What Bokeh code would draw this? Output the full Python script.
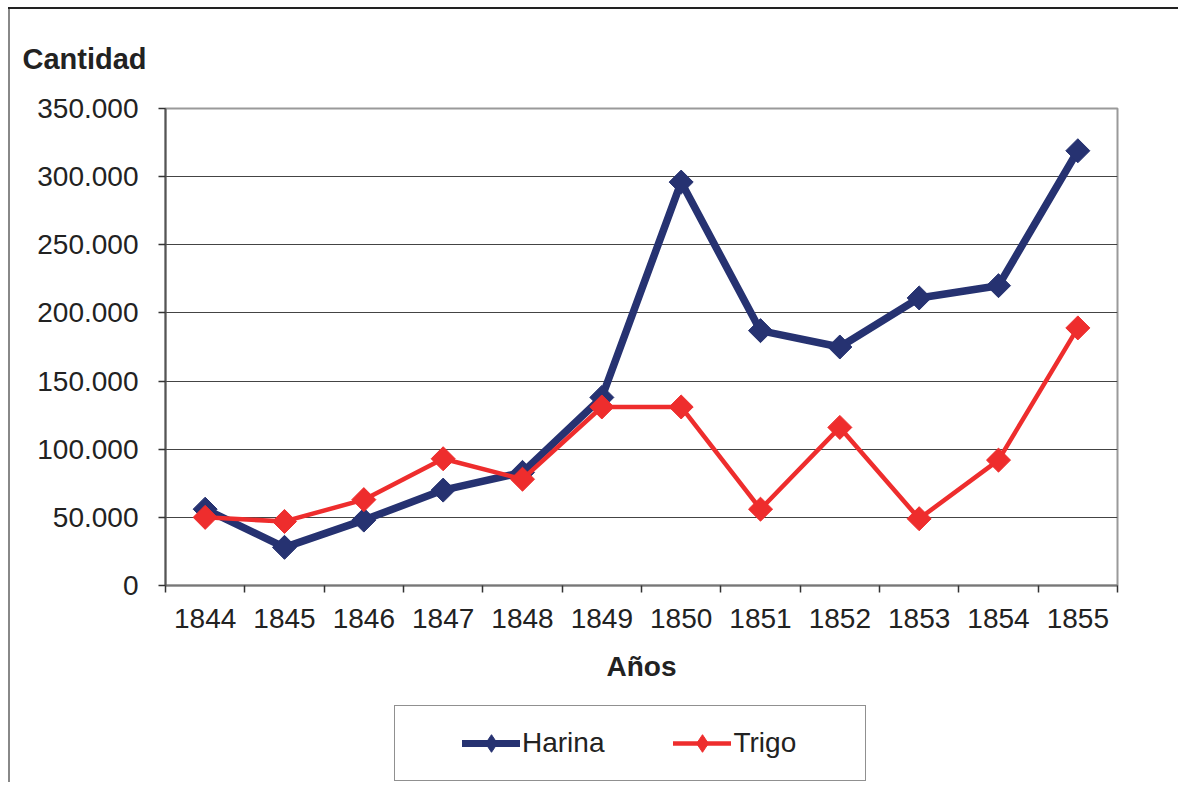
import numpy as np
from bokeh.plotting import figure
from bokeh.layouts import column
from bokeh.models import FixedTicker, Legend, LegendItem, Range1d
from bokeh.embed import file_html
from bokeh.resources import INLINE

years = ["1844", "1845", "1846", "1847", "1848", "1849",
         "1850", "1851", "1852", "1853", "1854", "1855"]
harina = [56000, 28000, 48000, 70000, 83000, 138000,
          296000, 187000, 175000, 211000, 220000, 319000]
trigo = [50000, 47000, 63000, 93000, 78000, 131000,
         131000, 56000, 116000, 49000, 92000, 189000]
y_ticks = [0, 50000, 100000, 150000, 200000, 250000, 300000, 350000]
y_tick_labels = ["0", "50.000", "100.000", "150.000", "200.000",
                 "250.000", "300.000", "350.000"]
series_names = ["Harina", "Trigo"]

FONT = "Liberation Sans"
FS = "28px"
BLUE = "#263271"
RED = "#EE2D2D"
TXT = "#222222"

n = len(years)
xs = np.arange(n) + 0.5

p = figure(width=1178, height=700,
           x_range=Range1d(0, n), y_range=Range1d(0, 350000),
           output_backend="svg", toolbar_location=None,
           min_border_left=165, min_border_right=61,
           min_border_top=108, min_border_bottom=115,
           border_fill_color=None, background_fill_color="white")

p.outline_line_color = "#9a9a9a"
p.outline_line_width = 2

# Title
p.title.text = "Cantidad"
p.title.text_font = FONT
p.title.text_font_size = "29px"
p.title.text_font_style = "bold"
p.title.text_color = TXT
p.title.align = "left"
p.title.offset = -143
p.title.standoff = 67

# X axis
xa = p.xaxis[0]
xa.ticker = FixedTicker(ticks=list(xs), minor_ticks=list(range(n + 1)))
xa.major_label_overrides = {float(x): y for x, y in zip(xs, years)}
xa.major_tick_out = 0
xa.major_tick_in = 0
xa.minor_tick_out = 7
xa.minor_tick_in = 0
xa.minor_tick_line_color = "#333333"
xa.minor_tick_line_width = 1.5
xa.axis_line_color = "#777777"
xa.axis_line_width = 2
xa.major_label_text_font = FONT
xa.major_label_text_font_size = FS
xa.major_label_text_color = TXT
xa.major_label_standoff = 16
xa.axis_label = "Años"
xa.axis_label_text_font = FONT
xa.axis_label_text_font_size = FS
xa.axis_label_text_font_style = "bold"
xa.axis_label_text_color = TXT
xa.axis_label_standoff = 20

# Y axis
ya = p.yaxis[0]
ya.ticker = FixedTicker(ticks=y_ticks)
ya.major_label_overrides = {t: l for t, l in zip(y_ticks, y_tick_labels)}
ya.major_tick_out = 7
ya.major_tick_in = 0
ya.major_tick_line_color = "#333333"
ya.major_tick_line_width = 1.5
ya.minor_tick_line_color = None
ya.axis_line_color = "#555555"
ya.axis_line_width = 2
ya.major_label_text_font = FONT
ya.major_label_text_font_size = FS
ya.major_label_text_color = TXT
ya.major_label_standoff = 20

p.xgrid.grid_line_color = None
p.ygrid.grid_line_color = "#444444"
p.ygrid.grid_line_width = 1

# Series
p.line(xs, harina, line_color=BLUE, line_width=7.5, line_join="round")
p.scatter(xs, harina, marker="square", angle=np.pi / 4, size=17,
          fill_color=BLUE, line_color=BLUE)
p.line(xs, trigo, line_color=RED, line_width=4.5, line_join="round")
p.scatter(xs, trigo, marker="square", angle=np.pi / 4, size=17,
          fill_color=RED, line_color=RED)

# Legend strip (separate figure so the legend is not clipped).
# Its ranges keep the series themselves out of view; only the legend shows.
q = figure(width=1178, height=82, x_range=Range1d(0, 1), y_range=Range1d(0, 1),
           output_backend="svg", toolbar_location=None,
           x_axis_location=None, y_axis_location=None,
           min_border=0, border_fill_color=None, background_fill_color=None,
           outline_line_color=None)
q.xgrid.grid_line_color = None
q.ygrid.grid_line_color = None

ql1 = q.line(xs, harina, line_color=BLUE, line_width=7, line_cap="round")
qm1 = q.scatter(xs, harina, marker="diamond", size=17, fill_color=BLUE, line_color=BLUE)
ql2 = q.line(xs, trigo, line_color=RED, line_width=4.5, line_cap="round")
qm2 = q.scatter(xs, trigo, marker="diamond", size=17, fill_color=RED, line_color=RED)
qbox = q.line(xs, harina, line_alpha=0)

FRAME_LEFT = 165  # column aligns this strip's frame with the chart frame

box = Legend(items=[LegendItem(label=" ", renderers=[qbox])],
             location=(394 - FRAME_LEFT, 1), padding=21, margin=0,
             glyph_width=20, glyph_height=32, label_width=404, label_height=32,
             label_standoff=4, label_text_alpha=0,
             label_text_font=FONT, label_text_font_size=FS,
             border_line_color=TXT, border_line_width=1.5,
             background_fill_color="white", background_fill_alpha=1)
q.add_layout(box, "center")

legend = Legend(items=[LegendItem(label=series_names[0], renderers=[ql1, qm1]),
                       LegendItem(label=series_names[1], renderers=[ql2, qm2])],
                orientation="horizontal",
                location=(462 - FRAME_LEFT, 17),
                padding=0, spacing=69, margin=0,
                glyph_width=58, glyph_height=44,
                label_standoff=2,
                label_text_font=FONT, label_text_font_size=FS,
                label_text_color=TXT,
                border_line_color=None, background_fill_alpha=0)
q.add_layout(legend, "center")

layout = column(p, q, spacing=0)
layout.styles = {
    "background-image": "linear-gradient(#222222, #222222), linear-gradient(#888888, #888888)",
    "background-position": "8px 7px, 8px 7px",
    "background-size": "100% 2px, 2px 100%",
    "background-repeat": "no-repeat, no-repeat",
}

open("out.html", "w").write(file_html(layout, INLINE))
